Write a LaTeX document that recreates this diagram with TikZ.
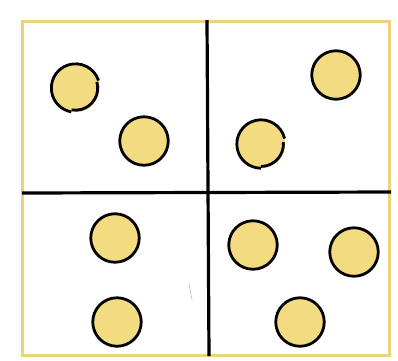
\documentclass[tikz,border=0pt]{standalone}
\usepackage{tikz}
\definecolor{frameyellow}{HTML}{EDD27A}
\definecolor{dotfill}{HTML}{F3DB82}
\tikzset{
  frame/.style={draw=frameyellow, line width=3pt},
  divider/.style={draw=black, line width=3.2pt},
  dot/.style={circle, draw=black, fill=dotfill, line width=2.8pt, minimum size=48.5pt, inner sep=0pt},
  dotfillonly/.style={fill=dotfill},
  dotline/.style={draw=black, line width=2.8pt}
}
\begin{document}
\begin{tikzpicture}[x=1pt,y=-1pt]
\useasboundingbox (0,0) rectangle (398,360);
\fill[white] (0,0) rectangle (398,360);
% outer frame
\draw[frame] (22,21) rectangle (389,355);
% dividers
\draw[divider] (207,20) -- (209,356);
\draw[divider] (22,193) -- (391,192);
\draw[gray!40, line width=0.8pt] (189,283) -- (192,300);
% dots with small overlaps (hand-drawn look)
\fill[dotfillonly] (75.5,88) circle (24.2);
\draw[dotline] (75.5,88) ++(-18:24.2) arc (-18:-260:24.2);
\draw[dotline] (75.5,88) ++(-16:22.2) arc (-16:100:22.2);
\node[dot] (d2) at (144,141) {};
\node[dot] (d3) at (336,75) {};
\fill[dotfillonly] (261,144) circle (24.2);
\draw[dotline] (261,144) ++(-13:24.2) arc (-13:-270:24.2);
\draw[dotline] (261,144) ++(-5:22.4) arc (-5:90:22.4);
\node[dot] (d5) at (115,238) {};
\node[dot] (d6) at (117,322) {};
\node[dot] (d7) at (253,245) {};
\node[dot] (d8) at (354,252) {};
\node[dot] (d9) at (300,322) {};
\end{tikzpicture}
\end{document}
